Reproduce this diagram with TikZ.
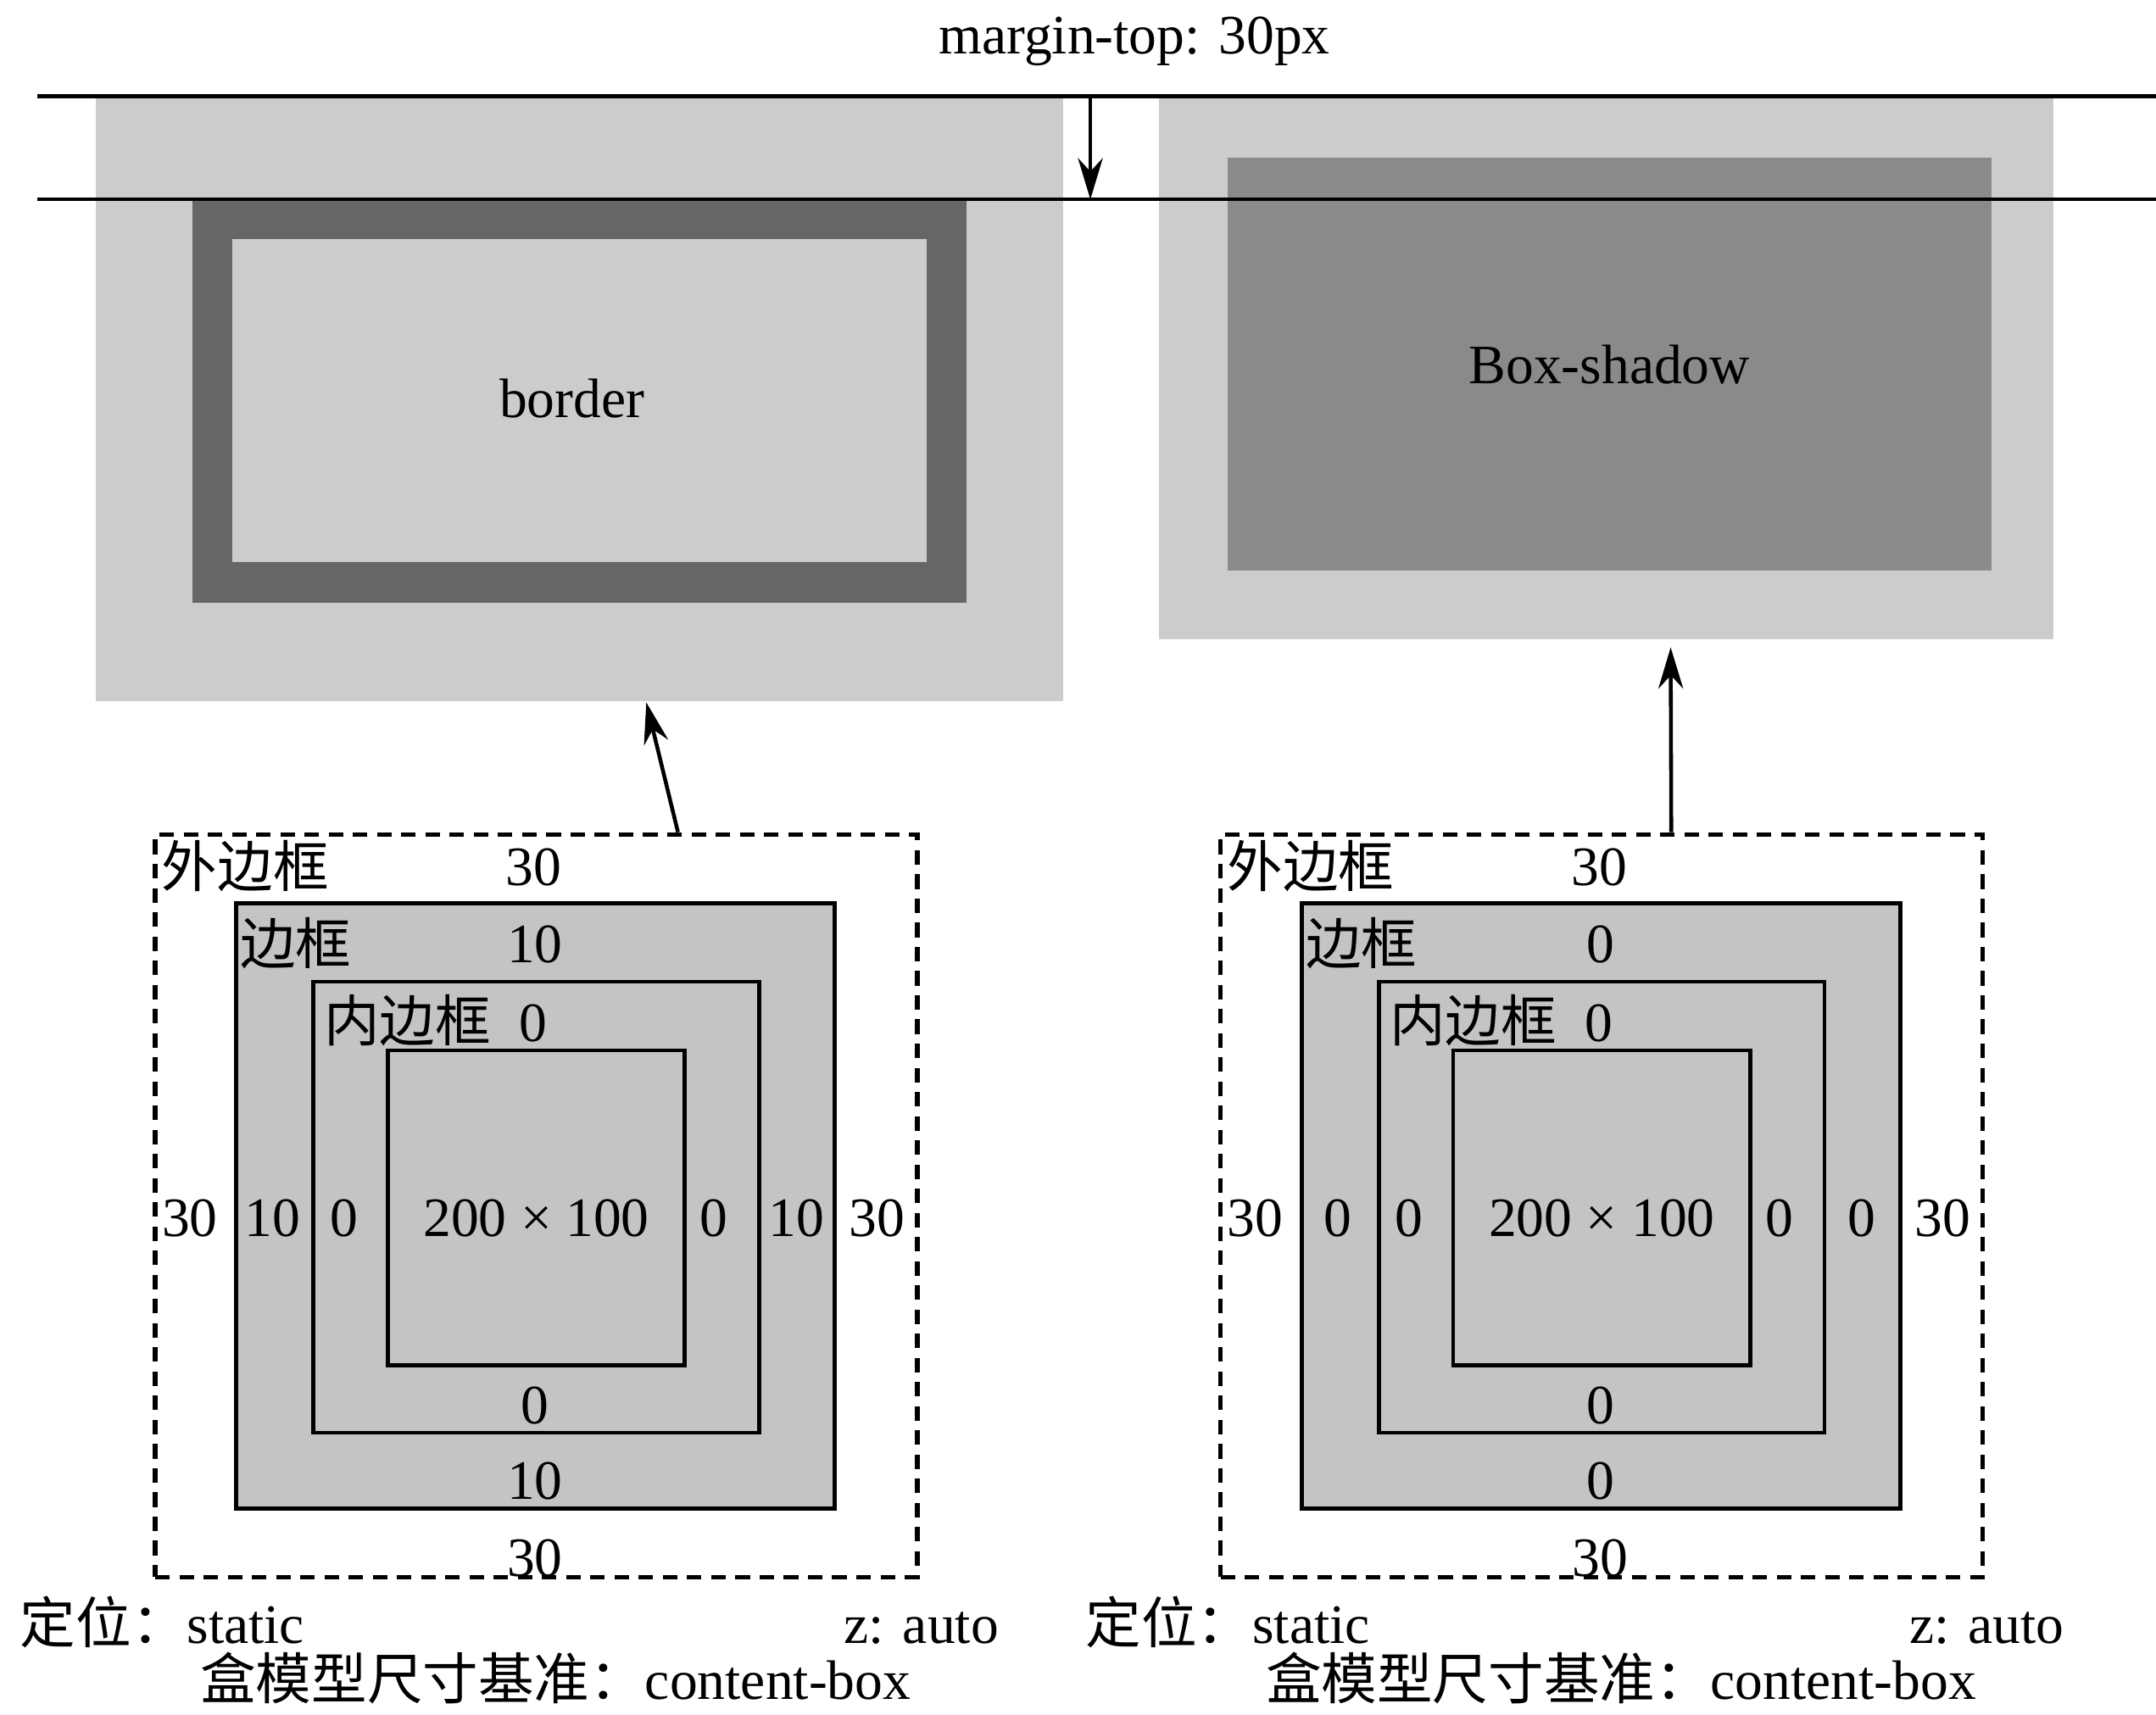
\documentclass[tikz,border=0pt]{standalone}
\usepackage{fontspec}
\setmainfont{Liberation Serif}
\newfontfamily\cjk{Noto Sans CJK SC}
\usetikzlibrary{arrows.meta,positioning}
\definecolor{marginfill}{RGB}{204,204,204}
\definecolor{borderfill}{RGB}{102,102,102}
\definecolor{shadowfill}{RGB}{138,138,138}
\definecolor{boxfill}{RGB}{196,196,196}

\begin{document}
\begin{tikzpicture}[x=0.01cm, y=-0.01cm,
    every node/.style={font=\fontsize{11.5}{14}\selectfont, inner sep=0pt},
    greybox/.style={fill=marginfill, draw=none},
    layerbox/.style={fill=boxfill, draw=black, line width=0.8pt},
    outerbox/.style={draw=black, line width=0.9pt, dash pattern=on 3pt off 2pt},
    pointer/.style={-{Stealth[length=3mm,width=1.8mm]}, line width=0.8pt}]
\useasboundingbox (0,0) rectangle (1568,1247);

% rendered boxes
\node[greybox, minimum width=7.03cm, minimum height=4.40cm] (marginL) at (421.5,290) {};
\node[fill=marginfill, draw=borderfill, line width=0.29cm, minimum width=5.34cm, minimum height=2.64cm] (borderL) at (421.5,291.5) {};
\node (borderTxt) at (416,290) {border};
\node[greybox, minimum width=6.50cm, minimum height=3.95cm] (marginR) at (1168,267.5) {};
\node[fill=shadowfill, minimum width=5.55cm, minimum height=3.00cm] (shadowR) at (1170.5,265) {Box-shadow};

% margin-top guides
\node (mtop) at (825,30) {margin-top: 30px};
\coordinate (guideA1) at (27,70);  \coordinate (guideA2) at (1568,70);
\coordinate (guideB1) at (27,145); \coordinate (guideB2) at (1568,145);
\coordinate (mtA) at (793,70);     \coordinate (mtB) at (793,145);
\draw[line width=0.8pt] (guideA1) -- (guideA2) (guideB1) -- (guideB2);
\draw[pointer] (mtA) -- (mtB);

% box model panels
\foreach \side/\dx/\bw in {L/0cm/10, R/7.745cm/0}{
\begin{scope}[xshift=\dx]
    \node[outerbox, minimum width=5.54cm, minimum height=5.40cm] (outer\side) at (390,877) {};
    \node[layerbox, minimum width=4.35cm, minimum height=4.40cm] (bd\side) at (389.5,877) {};
    \node[layerbox, minimum width=3.24cm, minimum height=3.28cm] (pad\side) at (390,878) {};
    \node[layerbox, minimum width=2.16cm, minimum height=2.29cm] (cont\side) at (390,878.5) {};
    \node (dim\side) at (390,886) {200 × 100};
    \node[anchor=west] (lblOuter\side) at (117,630) {\cjk 外边框};
    \node (mTop\side) at (388,631) {30};
    \node[anchor=west] (lblBorder\side) at (174,686) {\cjk 边框};
    \node (bTop\side) at (389,687) {\bw};
    \node[anchor=west] (lblPad\side) at (235,742) {\cjk 内边框};
    \node (pTop\side) at (388,744) {0};
    \foreach \x/\l/\n in {138/30/mLeft, 198/\bw/bLeft, 250/0/pLeft, 519/0/pRight, 579/\bw/bRight, 638/30/mRight}
        \node (\n\side) at (\x,886) {\l};
    \node (pBot\side) at (389,1022) {0};
    \node (bBot\side) at (389,1077) {\bw};
    \node (mBot\side) at (389,1133) {30};
    \node[anchor=base west] (pos\side) at (14,1195) {\cjk 定位：\rmfamily static};
    \node[anchor=base east] (zidx\side) at (727,1195) {z: auto};
    \node[anchor=base west] (sizing\side) at (145,1236) {\cjk 盒模型尺寸基准：\rmfamily content-box};
\end{scope}
}

\draw[pointer] ([xshift=1.03cm]outerL.north) -- ([xshift=0.485cm]marginL.south);
\draw[pointer] ([xshift=0.505cm]outerR.north) -- ([xshift=0.47cm,yshift=-0.05cm]marginR.south);
\end{tikzpicture}
\end{document}
